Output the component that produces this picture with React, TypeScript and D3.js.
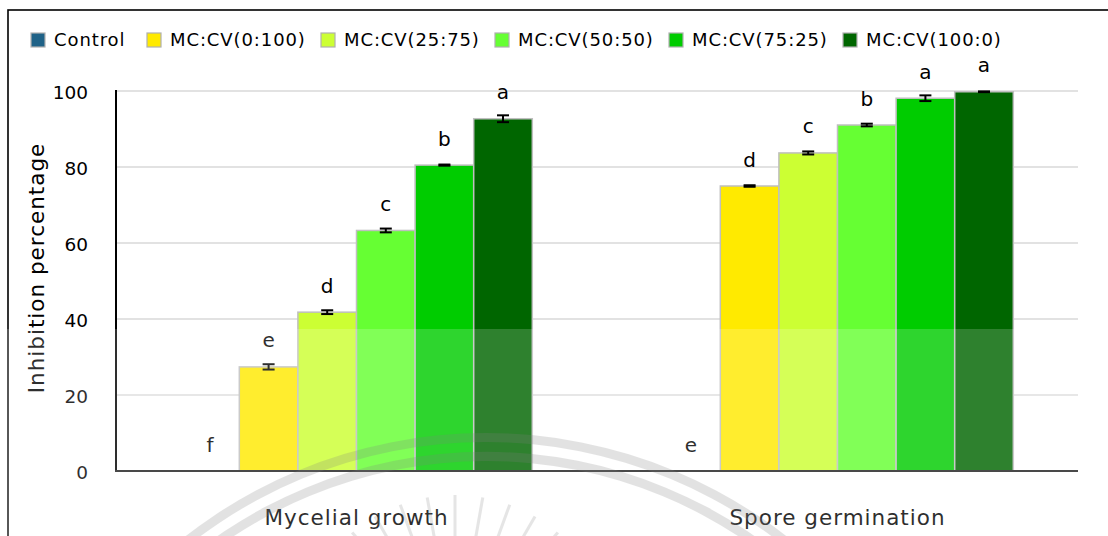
import React from "react";
import * as d3 from "d3";

const categories = ["Mycelial growth", "Spore germination"];
const seriesNames = ["Control", "MC:CV(0:100)", "MC:CV(25:75)", "MC:CV(50:50)", "MC:CV(75:25)", "MC:CV(100:0)"];
const seriesColors = ["#1f6287", "#ffea00", "#ccff33", "#66ff33", "#00cc00", "#006600"];

const mycelialValues = [0, 27.4, 41.8, 63.3, 80.5, 92.7];
const mycelialErrors = [0, 0.7, 0.5, 0.5, 0.15, 0.9];
const mycelialLetters = ["f", "e", "d", "c", "b", "a"];

const sporeValues = [0, 75.0, 83.7, 91.05, 98.1, 99.8];
const sporeErrors = [0, 0.2, 0.4, 0.35, 0.75, 0.1];
const sporeLetters = ["e", "d", "c", "b", "a", "a"];

const yTicks = [0, 20, 40, 60, 80, 100];

const W = 1108;
const H = 536;
const FONT = "'DejaVu Sans', Verdana, sans-serif";

export default function App() {
  const values = [mycelialValues, sporeValues];
  const errors = [mycelialErrors, sporeErrors];
  const letters = [mycelialLetters, sporeLetters];

  const x0 = d3.scaleBand<string>().domain(categories).range([116, 1078]).paddingInner(0.269).paddingOuter(0.1345);
  const x1 = d3.scaleBand<string>().domain(seriesNames).range([0, x0.bandwidth()]).padding(0);
  const y = d3.scaleLinear().domain([0, 100]).range([471, 91]);

  const legendX = [31, 147, 321, 495, 669, 843];

  // watermark geometry
  const wmCx = 486, wmCy = 922;
  const arc1 = d3.arc()({ innerRadius: 480, outerRadius: 489, startAngle: -Math.PI / 2, endAngle: Math.PI / 2 } as any) || "";
  const arc2 = d3.arc()({ innerRadius: 461, outerRadius: 470, startAngle: -Math.PI / 2, endAngle: Math.PI / 2 } as any) || "";
  const rayAngles = d3.range(-130, -45, 10);

  return (
    <svg width={W} height={H} style={{ position: "absolute", left: 0, top: 0, background: "#fff" }} fontFamily={FONT}>
      <rect x={0} y={0} width={W} height={H} fill="#fff" />
      {/* outer border */}
      <rect x={8} y={10} width={1300} height={700} fill="none" stroke="#000" strokeWidth={1.6} />

      {/* legend */}
      {seriesNames.map((s, i) => (
        <g key={s} transform={`translate(${legendX[i]},0)`}>
          <rect x={0} y={33} width={14} height={14} fill={seriesColors[i]} stroke="#b0b0b0" strokeWidth={1.2} />
          <text x={23} y={46} fontSize={18} letterSpacing={0.9} fill="#000">{s}</text>
        </g>
      ))}

      {/* gridlines */}
      {yTicks.map((t) => (
        <line key={t} x1={116} x2={1078} y1={y(t)} y2={y(t)} stroke="#d9d9d9" strokeWidth={1.6} />
      ))}
      {/* y tick labels */}
      {yTicks.map((t) => (
        <text key={"l" + t} x={88} y={y(t) + 1} dy="0.36em" textAnchor="end" fontSize={18.5} fill="#000">{t}</text>
      ))}
      {/* y title */}
      <text transform={`translate(44,268) rotate(-90)`} textAnchor="middle" fontSize={21.5} letterSpacing={1} fill="#000">
        Inhibition percentage
      </text>

      {/* bars */}
      {categories.map((c, ci) => (
        <g key={c} transform={`translate(${x0(c)},0)`}>
          {seriesNames.map((s, si) => {
            const v = values[ci][si];
            return (
              <rect key={s} x={x1(s)} y={y(v)} width={x1.bandwidth()} height={y(0) - y(v)}
                fill={seriesColors[si]} stroke="#bfbfbf" strokeWidth={1.5} />
            );
          })}
          {seriesNames.map((s, si) => {
            const v = values[ci][si];
            const e = errors[ci][si];
            const cx = (x1(s) || 0) + x1.bandwidth() / 2;
            return (
              <g key={"e" + s} stroke="#000" strokeWidth={2}>
                <line x1={cx} x2={cx} y1={y(v + e)} y2={y(v - e)} />
                <line x1={cx - 6} x2={cx + 6} y1={y(v + e)} y2={y(v + e)} />
                <line x1={cx - 6} x2={cx + 6} y1={y(v - e)} y2={y(v - e)} />
              </g>
            );
          })}
          {seriesNames.map((s, si) => {
            const v = values[ci][si];
            const cx = (x1(s) || 0) + x1.bandwidth() / 2;
            return (
              <text key={"t" + s} x={cx} y={y(v) - 19.5} textAnchor="middle" fontSize={20} fill="#000">
                {letters[ci][si]}
              </text>
            );
          })}
        </g>
      ))}

      {/* axes */}
      <line x1={116} x2={116} y1={90} y2={472} stroke="#000" strokeWidth={2} />
      <line x1={115} x2={1078} y1={471} y2={471} stroke="#222" strokeWidth={1.8} />

      {/* category labels */}
      {categories.map((c) => (
        <text key={"c" + c} x={(x0(c) || 0) + x0.bandwidth() / 2} y={525} textAnchor="middle" fontSize={21.5} letterSpacing={1} fill="#000">
          {c}
        </text>
      ))}

      {/* faint watermark overlay from the source image */}
      <defs>
        <clipPath id="wmclip">
          <rect x={0} y={329} width={W} height={H - 329} />
        </clipPath>
      </defs>
      <g clipPath="url(#wmclip)" pointerEvents="none">
        <rect x={0} y={329} width={W} height={H - 329} fill="#fff" opacity={0.18} />
        <g transform={`translate(${wmCx},${wmCy})`} fill="#808080" opacity={0.22}>
          <path d={arc1} />
          <path d={arc2} />
        </g>
        <g stroke="#808080" strokeWidth={3} opacity={0.2}>
          {rayAngles.map((a) => {
            const r = (a * Math.PI) / 180;
            return (
              <line key={a} x1={455 + Math.cos(r) * 115} y1={655 + Math.sin(r) * 115}
                x2={455 + Math.cos(r) * 160} y2={655 + Math.sin(r) * 160} />
            );
          })}
        </g>
      </g>
    </svg>
  );
}
